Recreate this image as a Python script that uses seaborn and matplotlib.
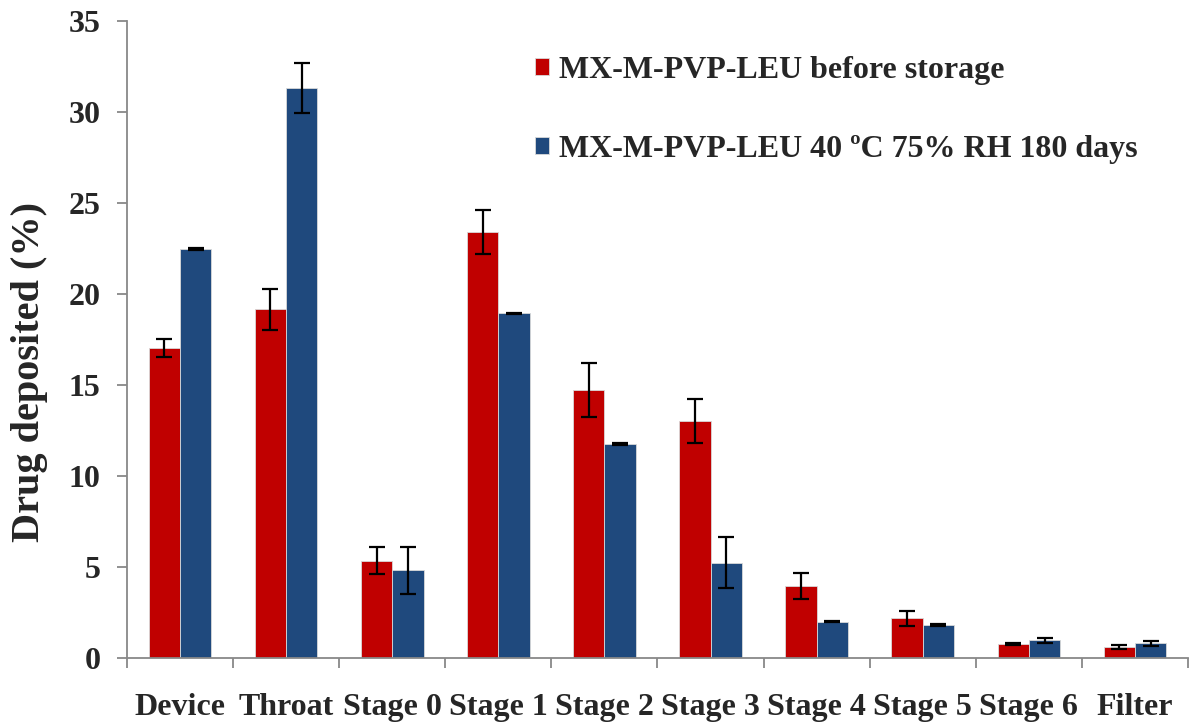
import numpy as np
import pandas as pd
import seaborn as sns
import matplotlib.pyplot as plt

stages = ["Device", "Throat", "Stage 0", "Stage 1", "Stage 2", "Stage 3",
          "Stage 4", "Stage 5", "Stage 6", "Filter"]
series = ["MX-M-PVP-LEU before storage",
          "MX-M-PVP-LEU 40 \u00baC 75% RH 180 days"]

before = [17.05, 19.15, 5.35, 23.4, 14.72, 13.02, 3.95, 2.18, 0.76, 0.6]
before_err = [0.5, 1.15, 0.75, 1.22, 1.48, 1.2, 0.71, 0.42, 0.07, 0.13]
stored = [22.47, 31.32, 4.82, 18.93, 11.75, 5.22, 2.0, 1.83, 0.98, 0.8]
stored_err = [0.05, 1.37, 1.3, 0.05, 0.05, 1.4, 0.05, 0.05, 0.13, 0.13]

df = pd.DataFrame({
    "stage": stages * 2,
    "group": [series[0]] * len(stages) + [series[1]] * len(stages),
    "value": before + stored,
    "err": before_err + stored_err,
})

sns.set_style("white")
plt.rcParams["font.family"] = ["Liberation Serif", "DejaVu Serif"]
plt.rcParams["font.weight"] = "bold"

fig = plt.figure(figsize=(11.91, 7.24), dpi=100)
ax = fig.add_axes([0.1066, 0.0912, 0.8909, 0.8798])

colors = ["#C00000", "#1F497D"]
sns.barplot(data=df, x="stage", y="value", hue="group", palette=colors,
            width=0.59, errorbar=None, edgecolor="#d9d9d9", linewidth=0.6,
            saturation=1, ax=ax)

# error bars at the centre of each bar
for cont, errs in zip(ax.containers, [before_err, stored_err]):
    xs = [p.get_x() + p.get_width() / 2 for p in cont.patches]
    ys = [p.get_height() for p in cont.patches]
    ax.errorbar(xs, ys, yerr=errs, fmt="none", ecolor="black",
                elinewidth=1.6, capsize=6, capthick=1.6, zorder=5)

ax.set_ylim(0, 35)
ax.set_xlim(-0.5, len(stages) - 0.5)
ax.set_yticks(np.arange(0, 36, 5))
ax.set_ylabel("Drug deposited (%)", fontsize=29, fontweight="bold")
ax.yaxis.set_label_coords(-0.074, 0.449)
ax.set_xlabel("")

for s in ["top", "right"]:
    ax.spines[s].set_visible(False)
for s in ["left", "bottom"]:
    ax.spines[s].set_color("#888888")
    ax.spines[s].set_linewidth(1.3)

ax.tick_params(axis="y", which="major", direction="out", length=7, width=1.3,
               color="#888888", labelsize=23, pad=12, left=True)
ax.tick_params(axis="x", which="major", length=0, labelsize=23, pad=25)
ax.set_xticks(np.arange(-0.5, len(stages)), minor=True)
ax.tick_params(axis="x", which="minor", direction="out", length=7, width=1.3,
               color="#888888", bottom=True)
for lab in ax.get_xticklabels() + ax.get_yticklabels():
    lab.set_fontweight("bold")

handles, labels = ax.get_legend_handles_labels()
ax.legend(handles, labels, loc="upper left", bbox_to_anchor=(0.425, 0.962),
          bbox_transform=fig.transFigure, frameon=False,
          handlelength=0.45, handleheight=0.45, handletextpad=0.3,
          labelspacing=1.55, prop={"weight": "bold", "size": 23})

fig.savefig("out.png", dpi=100)
